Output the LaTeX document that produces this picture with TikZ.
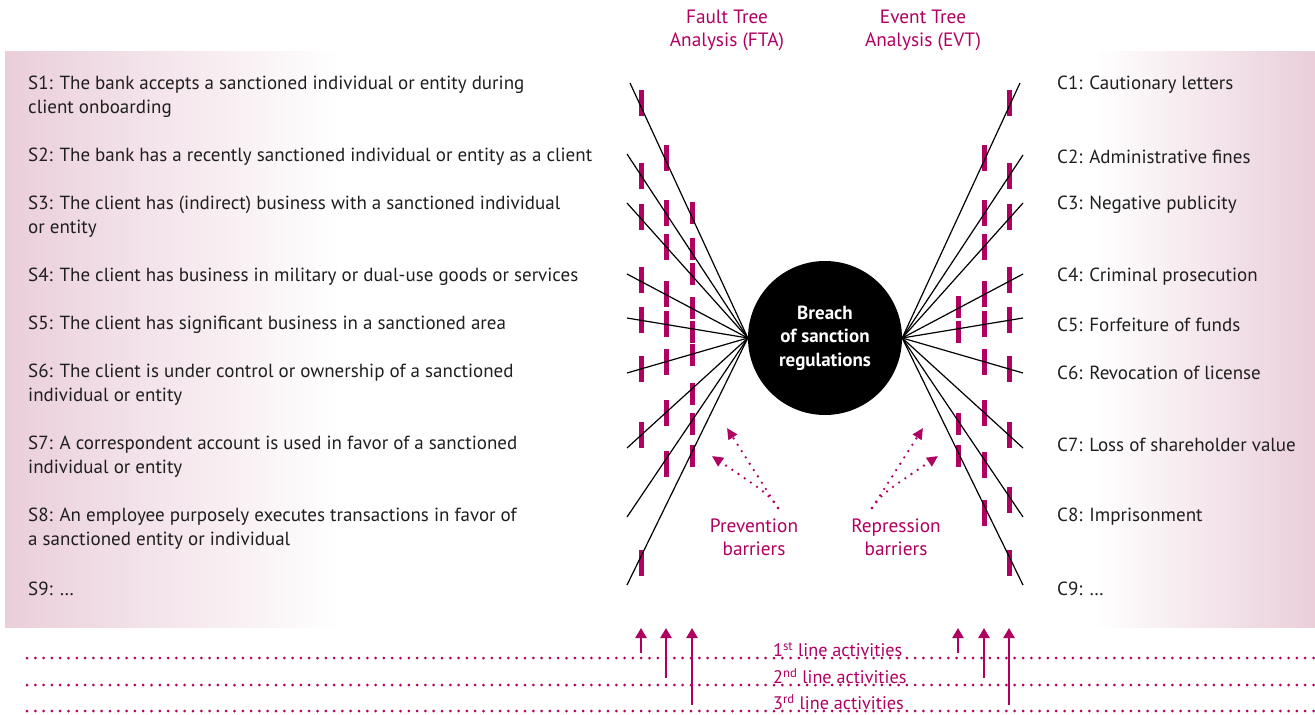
\documentclass[tikz,border=0pt]{standalone}
\usepackage{fontspec}
\setmainfont{PT Sans}
\usetikzlibrary{arrows.meta,calc}
\definecolor{mag}{RGB}{176,0,96}
\definecolor{pinkbg}{RGB}{234,206,218}
\begin{document}
\begin{tikzpicture}[x=1pt,y=-1pt,
  lbl/.style={anchor=west,align=left,inner sep=0pt,font=\fontsize{19}{24}\selectfont,text=black!88,yshift=-2pt},
  head/.style={align=center,inner sep=0pt,text=mag,font=\fontsize{19.3}{23}\selectfont},
  act lbl/.style={anchor=west,inner sep=0pt,text=mag,font=\fontsize{18.2}{23}\selectfont},
  barrier/.style={rectangle,fill=mag,draw=none,minimum width=5pt,minimum height=26pt,inner sep=0pt},
  sbarrier/.style={barrier,minimum height=22pt},
  link/.style={line width=1.2pt,black},
  act/.style={mag,line width=3pt,line cap=round,dash pattern=on 0pt off 8.3pt},
  up/.style={mag,line width=2.8pt,-{Triangle[width=11pt,length=10pt]}},
  hint/.style={mag,line width=2.6pt,line cap=round,dash pattern=on 0pt off 7.5pt,-{Triangle[width=10pt,length=11pt]}}
]
\useasboundingbox (0,0) rectangle (1315,715);
% background band
\shade[left color=pinkbg,right color=white] (5,51) rectangle (340,627);
\shade[left color=white,right color=pinkbg] (1095,51) rectangle (1315,627);

% headings
\node[head] (fta) at (727,30) {Fault Tree\\Analysis (FTA)};
\node[head] (evt) at (923,30) {Event Tree\\Analysis (EVT)};

% central event
\node[circle,fill=black,minimum size=154pt,inner sep=0pt,text=white,align=center,
      font=\bfseries\fontsize{19}{23.5}\selectfont] (breach) at (825,338)
      {Breach\\of sanction\\regulations};

% line end points
\coordinate (L1) at (630,83);  \coordinate (R1) at (1020,83);
\coordinate (L2) at (627,154); \coordinate (R2) at (1023,155);
\coordinate (L3) at (627,203); \coordinate (R3) at (1023,203);
\coordinate (L4) at (627,274); \coordinate (R4) at (1023,274);
\coordinate (L5) at (627,318); \coordinate (R5) at (1023,318);
\coordinate (L6) at (627,373); \coordinate (R6) at (1023,373);
\coordinate (L7) at (627,448); \coordinate (R7) at (1023,448);
\coordinate (L8) at (627,517); \coordinate (R8) at (1023,517);
\coordinate (L9) at (627,585); \coordinate (R9) at (1023,585);

% barriers (left)
\foreach \y [count=\i] in {103,176,217,280,320,369,435,563}
  \node[barrier] (pa\i) at (641,\y) {};
\foreach \y [count=\i] in {158,213,247,294,324,362,413,464}
  \node[barrier] (pb\i) at (666,\y) {};
\foreach \y [count=\i] in {213,249,274,308,332,355,394,424,456}
  \node[sbarrier] (pc\i) at (692,\y) {};
% barriers (right)
\foreach \y [count=\i] in {307,332,424,456}
  \node[sbarrier] (ra\i) at (958,\y) {};
\foreach \y [count=\i] in {158,213,247,294,324,362,413,465,513}
  \node[barrier] (rb\i) at (984,\y) {};
\foreach \y [count=\i] in {103,176,217,280,320,369,435,500,563}
  \node[barrier] (rc\i) at (1009,\y) {};

% fan lines
\foreach \i in {1,...,9} {
  \draw[link] (L\i) -- (breach.west);
  \draw[link] (R\i) -- (breach.east);
}

% scenario labels
\node[lbl] (s1) at (28,95)  {S1: The bank accepts a sanctioned individual or entity during\\client onboarding};
\node[lbl] (s2) at (28,155) {S2: The bank has a recently sanctioned individual or entity as a client};
\node[lbl] (s3) at (28,215) {S3: The client has (indirect) business with a sanctioned individual\\or entity};
\node[lbl] (s4) at (28,275) {S4: The client has business in military or dual-use goods or services};
\node[lbl] (s5) at (28,323) {S5: The client has significant business in a sanctioned area};
\node[lbl] (s6) at (28,383) {S6: The client is under control or ownership of a sanctioned\\individual or entity};
\node[lbl] (s7) at (28,455) {S7: A correspondent account is used in favor of a sanctioned\\individual or entity};
\node[lbl] (s8) at (28,527) {S8: An employee purposely executes transactions in favor of\\a sanctioned entity or individual};
\node[lbl] (s9) at (28,587) {S9: \dots};

% consequence labels
\node[lbl] (c1) at (1057,83)  {C1: Cautionary letters};
\node[lbl] (c2) at (1057,155) {C2: Administrative fines};
\node[lbl] (c3) at (1057,203) {C3: Negative publicity};
\node[lbl] (c4) at (1057,275) {C4: Criminal prosecution};
\node[lbl] (c5) at (1057,323) {C5: Forfeiture of funds};
\node[lbl] (c6) at (1057,371) {C6: Revocation of license};
\node[lbl] (c7) at (1057,443) {C7: Loss of shareholder value};
\node[lbl] (c8) at (1057,515) {C8: Imprisonment};
\node[lbl] (c9) at (1057,587) {C9: \dots};

% barrier captions
\node[head] (prev) at (754,537) {Prevention\\barriers};
\node[head] (repr) at (896,537) {Repression\\barriers};
\coordinate (pv0) at (778,508); \coordinate (pv1) at (727,428); \coordinate (pv2) at (712,456);
\coordinate (rp0) at (872,508); \coordinate (rp1) at (923,428); \coordinate (rp2) at (938,456);
\draw[hint] (pv0) -- (pv1);
\draw[hint] (pv0) .. controls (768,494) .. (pv2);
\draw[hint] (rp0) -- (rp1);
\draw[hint] (rp0) .. controls (882,494) .. (rp2);

% lines of defence
\coordinate (d1a) at (27,658);  \coordinate (d1b) at (1315,658);
\coordinate (d2a) at (27,685);  \coordinate (d2b) at (1315,685);
\coordinate (d3a) at (27,711);  \coordinate (d3b) at (1315,711);
\draw[act] (d1a) -- (d1b);
\draw[act] (d2a) -- (d2b);
\draw[act] (d3a) -- (d3b);
\node[act lbl] (l1) at (773,650) {1\textsuperscript{st} line activities};
\node[act lbl] (l2) at (773,676) {2\textsuperscript{nd} line activities};
\node[act lbl] (l3) at (773,702) {3\textsuperscript{rd} line activities};

\coordinate (u1) at (641,653); \coordinate (t1) at (641,628);
\coordinate (u2) at (666,678); \coordinate (t2) at (666,628);
\coordinate (u3) at (692,705); \coordinate (t3) at (692,628);
\coordinate (u4) at (958,653); \coordinate (t4) at (958,628);
\coordinate (u5) at (984,678); \coordinate (t5) at (984,628);
\coordinate (u6) at (1009,705); \coordinate (t6) at (1009,628);
\foreach \i in {1,...,6} \draw[up] (u\i) -- (t\i);
\end{tikzpicture}
\end{document}
